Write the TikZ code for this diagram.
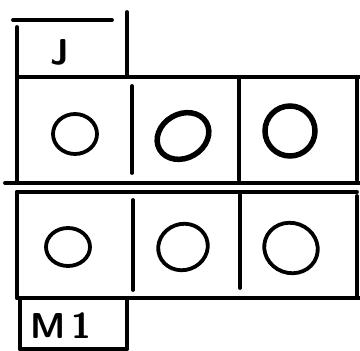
\documentclass[tikz,border=0pt]{standalone}
\begin{document}
\begin{tikzpicture}[x=1pt,y=-1pt,
  ink/.style={line width=3.8pt,line cap=round,black},
  ring/.style={line width=3.8pt,black},
  ringb/.style={line width=5.5pt,black},
  lbl/.style={font=\fontsize{36}{36}\selectfont\sffamily\bfseries,inner sep=0pt}]
\useasboundingbox[fill=white] (0,0) rectangle (360,351);
% J box
\coordinate (jtl) at (13,20);
\coordinate (jtr) at (112,20);
\draw[ink] (jtl) -- (jtr);
\draw[ink] (17,27) -- (17,182);
\draw[ink] (127,12) -- (127,77);
\node[lbl] (J) at (60,52) {J};
% row 1
\draw[ink] (17,77) -- (360,77);
\draw[ink] (357,77) -- (357,180);
\draw[ink] (132,86) -- (132,173);
\draw[ink] (239,78) -- (239,180);
\draw[ink] (5,183) -- (360,183);
\draw[ring] (75,134) ellipse [x radius=22,y radius=20];
\draw[ringb,rotate around={30:(183,136)}] (183,136) ellipse [x radius=27,y radius=22];
\draw[ringb] (290,131) ellipse [x radius=25,y radius=25];
% row 2
\draw[ink] (17,192) -- (357,192);
\draw[ink] (17,192) -- (17,298);
\draw[ink] (357,196) -- (357,296);
\draw[ink] (133,200) -- (133,290);
\draw[ink] (240,192) -- (240,288);
\draw[ink] (17,298) -- (360,298);
\draw[ring] (68,247) ellipse [x radius=22,y radius=19];
\draw[ring,rotate around={20:(183,247)}] (183,247) ellipse [x radius=25,y radius=23];
\draw[ring,rotate around={-20:(291,248)}] (291,248) ellipse [x radius=27,y radius=25];
% M1 box
\draw[ink] (20,298) -- (20,349);
\draw[ink] (127,298) -- (127,349);
\draw[ink] (20,349) -- (127,349);
\node[lbl] (M) at (61,326) {M\,1};
\end{tikzpicture}
\end{document}
